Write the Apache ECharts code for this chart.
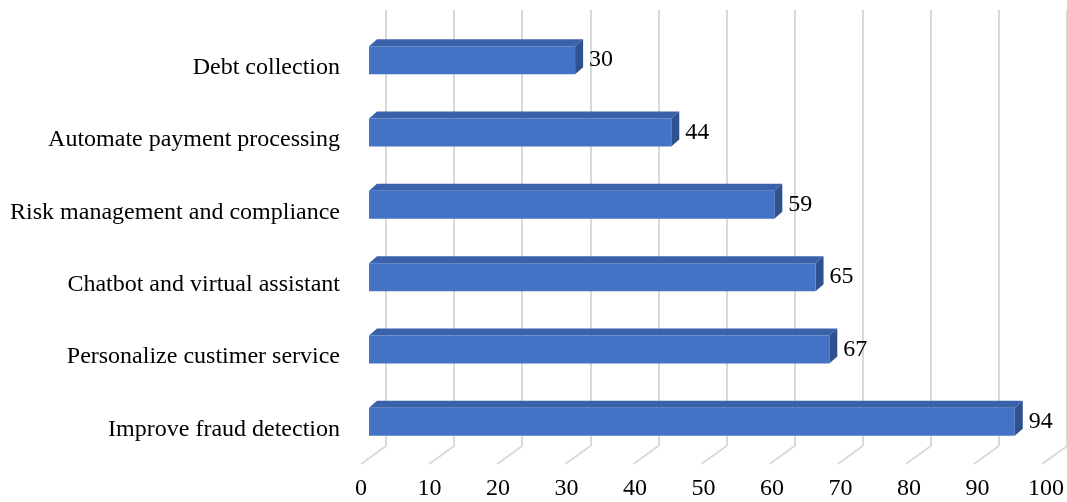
<!DOCTYPE html>
<html>
<head>
<meta charset="utf-8">
<style>
  html, body { margin: 0; padding: 0; background: #fff; }
  #chart { width: 1067px; height: 502px; }
</style>
<script src="https://cdn.jsdelivr.net/npm/echarts@6/dist/echarts.min.js"></script>
</head>
<body>
<div id="chart"></div>
<script>
// Use cases (bottom to top) and their counts
const categories = [
  'Improve fraud detection',
  'Personalize custimer service',
  'Chatbot and virtual assistant',
  'Risk management and compliance',
  'Automate payment processing',
  'Debt collection'
];
const values = [94, 67, 65, 59, 44, 30];
const tickValues = [0, 10, 20, 30, 40, 50, 60, 70, 80, 90, 100];

const FONT = '"Liberation Serif", "Times New Roman", serif';
const FRONT = '#4472C4';
const TOP = '#3A62AA';
const SIDE = '#2F528F';
const GRID_COLOR = '#D9D9D9';
const DX = 8, DY = 7, BAR_H = 28;

const chart = echarts.init(document.getElementById('chart'), null, { renderer: 'canvas' });

// 3D-looking bar: front face, top face and right side face
function renderBar(params, api) {
  const v = api.value(0);
  const c = api.value(1);
  const end = api.coord([v, c]);
  const start = api.coord([0, c]);
  const x0 = start[0], x1 = end[0];
  const y0 = end[1] - BAR_H / 2, y1 = end[1] + BAR_H / 2;
  return {
    type: 'group',
    children: [
      { type: 'polygon', shape: { points: [[x0, y0], [x0 + DX, y0 - DY], [x1 + DX, y0 - DY], [x1, y0]] }, style: { fill: TOP } },
      { type: 'polygon', shape: { points: [[x1, y0], [x1 + DX, y0 - DY], [x1 + DX, y1 - DY], [x1, y1]] }, style: { fill: SIDE } },
      { type: 'rect', shape: { x: x0, y: y0, width: x1 - x0, height: BAR_H }, style: { fill: FRONT } },
      { type: 'text', style: { text: String(v), x: x1 + DX + 6, y: end[1], align: 'left', verticalAlign: 'middle', fontSize: 24, fontFamily: FONT, fill: '#000' } }
    ]
  };
}

// Floor lines running from the back wall to the front edge
function renderFloorLine(params, api) {
  const p = api.coord([api.value(0), 0]);
  return {
    type: 'line',
    shape: { x1: p[0], y1: p[1], x2: p[0] - 25, y2: p[1] + 18 },
    style: { stroke: GRID_COLOR, lineWidth: 2 }
  };
}

chart.setOption({
  animation: false,
  grid: [
    // bars
    { left: 369, width: 687, top: 24, bottom: 44, containLabel: false },
    // back wall
    { left: 386, width: 687, top: 10, bottom: 56, containLabel: false },
    // front floor edge with tick labels
    { left: 361, width: 687, top: 460, height: 4, containLabel: false }
  ],
  xAxis: [
    { gridIndex: 0, type: 'value', min: 0, max: 100, interval: 10, show: false },
    { gridIndex: 1, type: 'value', min: 0, max: 100, interval: 10,
      axisLine: { show: false }, axisTick: { show: false }, axisLabel: { show: false },
      splitLine: { show: true, lineStyle: { color: GRID_COLOR, width: 2 } } },
    { gridIndex: 2, type: 'value', min: 0, max: 100, interval: 10,
      axisLine: { show: false }, axisTick: { show: false }, splitLine: { show: false },
      axisLabel: { margin: 13, fontSize: 24, fontFamily: FONT, color: '#000' } }
  ],
  yAxis: [
    { gridIndex: 0, type: 'category', data: categories,
      axisLine: { show: false }, axisTick: { show: false }, splitLine: { show: false },
      axisLabel: { margin: 29, fontSize: 24, fontFamily: FONT, color: '#000',
                   verticalAlign: 'top', lineHeight: 15 } },
    { gridIndex: 1, type: 'value', min: 0, max: 1, show: false },
    { gridIndex: 2, type: 'value', min: 0, max: 1, show: false }
  ],
  series: [
    { type: 'custom', xAxisIndex: 1, yAxisIndex: 1, renderItem: renderFloorLine,
      data: tickValues.map(t => [t]), silent: true, z: 1 },
    { type: 'custom', xAxisIndex: 0, yAxisIndex: 0, renderItem: renderBar,
      data: values.map((v, i) => [v, i]), encode: { x: 0, y: 1 }, z: 5 }
  ]
});
</script>
</body>
</html>
